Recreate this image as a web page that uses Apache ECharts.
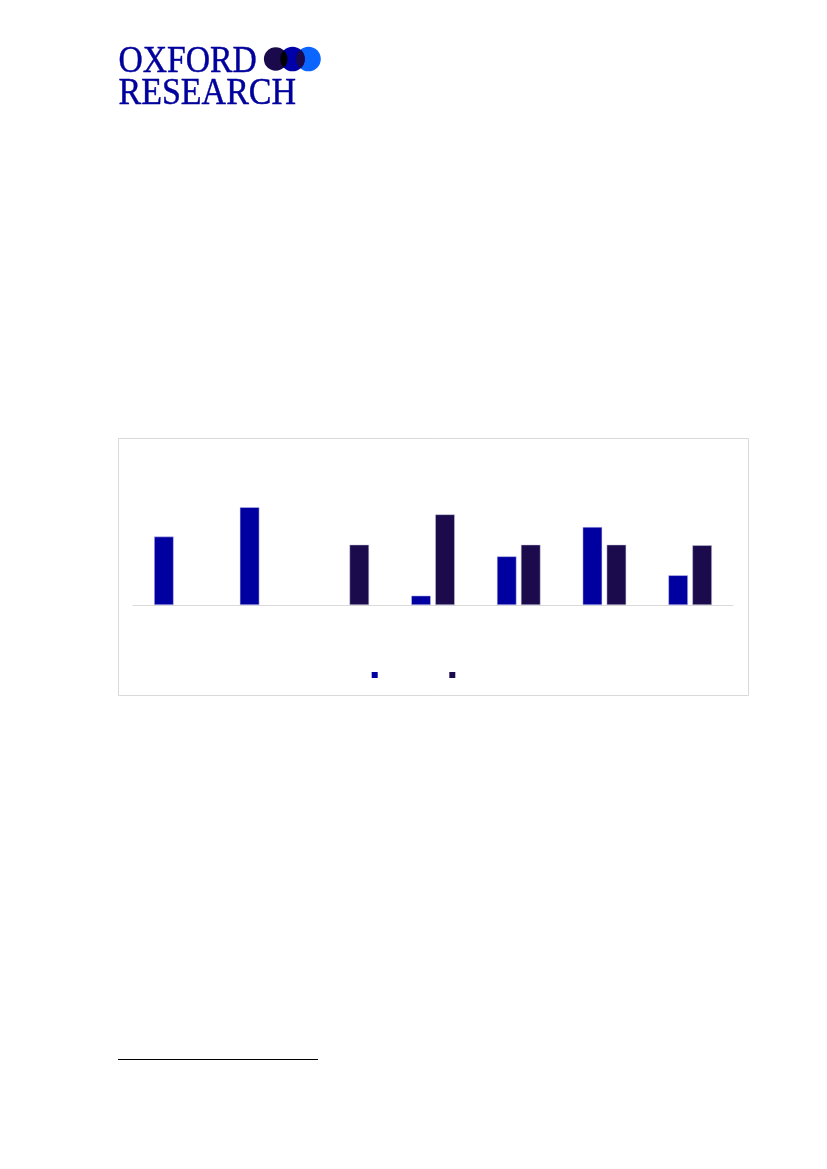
<!DOCTYPE html>
<html>
<head>
<meta charset="utf-8">
<script src="https://cdn.jsdelivr.net/npm/echarts@6/dist/echarts.min.js"></script>
<style>
html,body{margin:0;padding:0;background:#fff;}
#page{position:relative;width:827px;height:1169px;overflow:hidden;}
#chart{position:absolute;left:0;top:0;width:827px;height:1169px;}
#logo{position:absolute;left:0;top:0;}
</style>
</head>
<body>
<div id="page">
<div id="chart"></div>
<svg id="logo" width="340" height="120" xmlns="http://www.w3.org/2000/svg">
  <defs>
    <clipPath id="c1"><circle cx="275.7" cy="59" r="11.8"/></clipPath>
    <clipPath id="c3"><circle cx="308.5" cy="59" r="12.3"/></clipPath>
  </defs>
  <g fill="#00009c" stroke="#00009c" stroke-width="0.4" font-family="Liberation Serif, 'DejaVu Serif', serif" font-size="34">
    <text transform="translate(118.5,71.7) scale(0.99,1.13)">OXFORD</text>
    <text transform="translate(118.5,104) scale(1,1.13)">RESEARCH</text>
  </g>
  <circle cx="275.7" cy="59" r="11.8" fill="#1a0a4c"/>
  <circle cx="308.5" cy="59" r="12.3" fill="#0a66ff"/>
  <circle cx="292.5" cy="59" r="12.3" fill="#0000a8"/>
  <circle cx="292.5" cy="59" r="12.3" fill="#000000" clip-path="url(#c1)"/>
  <circle cx="292.5" cy="59" r="12.3" fill="#1a0a4c" clip-path="url(#c3)"/>
</svg>
</div>
<script>
const categories = ['K1', 'K2', 'K3', 'K4', 'K5', 'K6', 'K7'];
const seriesNames = ['Serie 1', 'Serie 2'];
const seriesA = [22.8, 32.6, null, 3.1, 16.2, 26.0, 9.9];
const seriesB = [null, null, 20.1, 30.2, 20.1, 20.1, 19.9];

const chart = echarts.init(document.getElementById('chart'), null, {renderer: 'canvas'});
chart.setOption({
  animation: false,
  backgroundColor: '#ffffff',
  graphic: [
    {type: 'rect', shape: {x: 118.5, y: 438.5, width: 630, height: 257}, style: {fill: 'none', stroke: '#d9d9d9', lineWidth: 1}, z: 0},
    {type: 'line', shape: {x1: 118, y1: 1059.5, x2: 318, y2: 1059.5}, style: {stroke: '#000000', lineWidth: 1.2}}
  ],
  grid: {left: 133, top: 455, width: 600, height: 150, containLabel: false},
  legend: {
    data: seriesNames,
    left: 366.7,
    top: 667,
    icon: 'rect',
    itemWidth: 6,
    itemHeight: 6,
    itemGap: 10.6,
    itemStyle: {borderWidth: 0},
    textStyle: {color: '#ffffff', fontSize: 6, lineHeight: 6, width: 56, overflow: 'truncate'}
  },
  xAxis: {
    type: 'category',
    data: categories,
    axisLine: {show: true, lineStyle: {color: '#d9d9d9', width: 1}},
    axisTick: {show: false},
    axisLabel: {show: false},
    splitLine: {show: false}
  },
  yAxis: {
    type: 'value',
    min: 0,
    max: 50,
    show: false,
    splitLine: {show: false}
  },
  series: [
    {name: seriesNames[0], type: 'bar', data: seriesA, barWidth: 19.5, barGap: '23%',
     itemStyle: {color: '#0000a0', borderColor: '#c8c8f0', borderWidth: 0.5}},
    {name: seriesNames[1], type: 'bar', data: seriesB, barWidth: 19.5, barGap: '23%',
     itemStyle: {color: '#1b0a4c', borderColor: '#c8c8dc', borderWidth: 0.5}}
  ]
});
</script>
</body>
</html>
